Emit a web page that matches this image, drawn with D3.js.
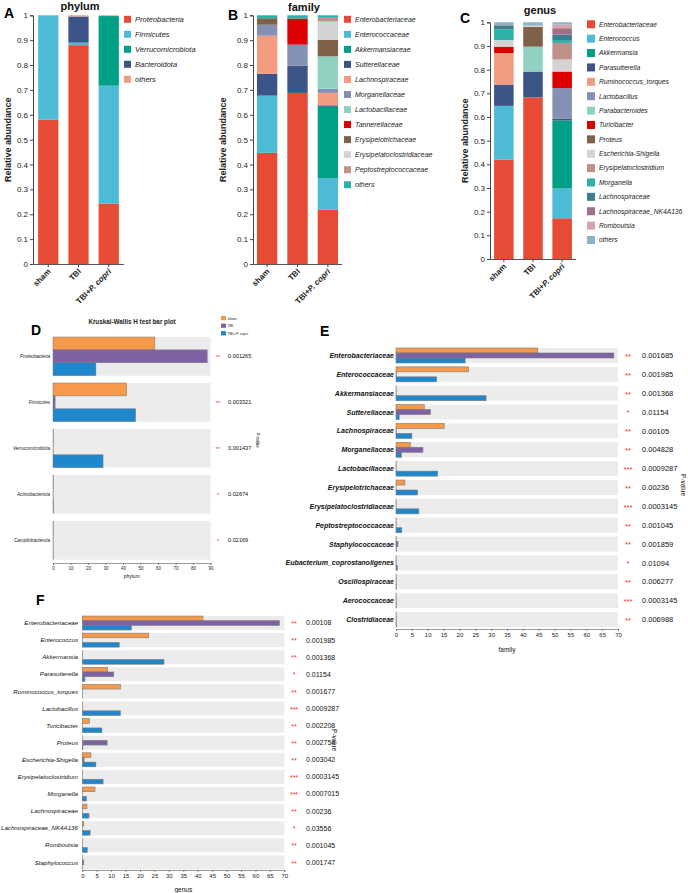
<!DOCTYPE html>
<html><head><meta charset="utf-8">
<script src="https://cdn.jsdelivr.net/npm/d3@7"></script>
<style>body{margin:0;background:#fff} svg{display:block;font-family:"Liberation Sans",Arial,sans-serif}</style>
</head><body><svg id="c" width="688" height="893"></svg>
<script>
const groups = ["sham","TBI","TBI+P. copri"];
const groupColors = ["#F7994A","#7E62A3","#1F87CC"];

// Panel A — phylum
const phylumTaxa = ["Proteobacteria","Firmicutes","Verrucomicrobiota","Bacteroidota","others"];
const phylumColors = ["#E64B35","#4DBBD5","#00A087","#3C5488","#F39B7F"];
const phylumSham = [0.58,0.42,0,0,0];
const phylumTBI = [0.88,0.01,0,0.105,0.005];
const phylumCopri = [0.243,0.474,0.28,0,0.003];

// Panel B — family
const familyTaxa = ["Enterobacteriaceae","Enterococcaceae","Akkermansiaceae","Sutterellaceae","Lachnospiraceae","Morganellaceae","Lactobacillaceae","Tannerellaceae","Erysipelotrichaceae","Erysipelatoclostridiaceae","Peptostreptococcaceae","others"];
const familyColors = ["#E64B35","#4DBBD5","#00A087","#3C5488","#F39B7F","#8491B4","#91D1C2","#DC0000","#7E6148","#D3D3D3","#C0908A","#2BB1A8"];
const familySham = [0.447,0.23,0,0.088,0.153,0.044,0,0,0.026,0,0,0.012];
const familyTBI = [0.688,0,0,0.109,0,0.085,0,0.105,0,0,0,0.013];
const familyCopri = [0.218,0.127,0.287,0.006,0.05,0.017,0.13,0,0.067,0.073,0.015,0.010];

// Panel C — genus
const genusTaxa = ["Enterobacteriaceae","Enterococcus","Akkermansia","Parasutterella","Ruminococcus_torques","Lactobacillus","Parabacteroides","Turicibacter","Proteus","Escherichia-Shigella","Erysipelatoclostridium","Morganella","Lachnospiraceae","Lachnospiraceae_NK4A136","Romboutsia","others"];
const genusColors = ["#E64B35","#4DBBD5","#00A087","#3C5488","#F39B7F","#8491B4","#91D1C2","#DC0000","#7E6148","#D3D3D3","#C0908A","#2BB1A8","#3A7F8E","#9E7189","#D8A3AB","#8DB3C7"];
const genusSham = [0.42,0.227,0,0.09,0.133,0,0,0.027,0,0.028,0,0.045,0.015,0.003,0,0.012];
const genusTBI = [0.683,0,0,0.109,0,0,0.105,0,0.083,0.006,0,0,0,0,0,0.014];
const genusCopri = [0.172,0.126,0.287,0.007,0,0.13,0,0.07,0,0.051,0.07,0.012,0.023,0.027,0.015,0.01];
const abundTicks = [0,0.1,0.2,0.3,0.4,0.5,0.6,0.7,0.8,0.9,1];

// Panel D — Kruskal-Wallis, phylum
const dTaxa = ["Proteobacteria","Firmicutes","Verrucomicrobiota","Actinobacteriota","Campilobacterota"];
const dSham = [58.2,42.1,0.2,0.3,0.2];
const dTBI = [88.1,1.2,0.1,0.1,0.1];
const dCopri = [24.5,47.2,28.6,0.3,0.1];
const dStars = ["**","**","**","*","*"];
const dP = ["0.001265","0.003321","0.001437","0.02674","0.02169"];
const dTicks = [0,10,20,30,40,50,60,70,80,90];

// Panel E — family
const eTaxa = ["Enterobacteriaceae","Enterococcaceae","Akkermansiaceae","Sutterellaceae","Lachnospiraceae","Morganellaceae","Lactobacillaceae","Erysipelotrichaceae","Erysipelatoclostridiaceae","Peptostreptococcaceae","Staphylococcaceae","Eubacterium_coprostanoligenes","Oscillospiraceae","Aerococcaceae","Clostridiaceae"];
const eSham = [44.7,22.9,0.05,8.9,15.2,4.5,0.05,2.8,0.05,0.05,0.05,0.05,0.05,0.05,0.05];
const eTBI = [68.7,0.1,0.05,10.9,0.1,8.5,0.05,0.05,0.05,0.05,0.6,0.05,0.05,0.05,0.05];
const eCopri = [21.8,12.8,28.4,1.0,5.0,1.7,13.1,6.8,7.2,1.8,0.1,0.4,0.1,0.1,0.1];
const eStars = ["**","**","**","*","**","**","***","**","***","**","**","*","**","***","**"];
const eP = ["0.001685","0.001985","0.001368","0.01154","0.00105","0.004828","0.0009287","0.00236","0.0003145","0.001045","0.001859","0.01094","0.006277","0.0003145","0.006988"];
const efTicks = [0,5,10,15,20,25,30,35,40,45,50,55,60,65,70];

// Panel F — genus
const fTaxa = ["Enterobacteriaceae","Enterococcus","Akkermansia","Parasutterella","Ruminococcus_torques","Lactobacillus","Turicibacter","Proteus","Escherichia-Shigella","Erysipelatoclostridium","Morganella","Lachnospiraceae","Lachnospiraceae_NK4A136","Romboutsia","Staphylococcus"];
const fSham = [41.8,23.0,0.05,8.8,13.3,0.05,2.5,0.05,3.0,0.05,4.4,1.6,0.5,0.05,0.05];
const fTBI = [68.3,0.05,0.05,10.9,0.05,0.05,0.05,8.6,0.6,0.05,0.05,0.05,0.05,0.05,0.5];
const fCopri = [17.0,12.8,28.3,0.9,0.05,13.2,6.8,0.2,4.7,7.2,1.4,2.3,2.7,1.7,0.05];
const fStars = ["**","**","**","*","**","***","**","**","**","***","***","**","*","**","**"];
const fP = ["0.00108","0.001985","0.001368","0.01154","0.001677","0.0009287","0.002208","0.002754","0.003042","0.0003145","0.0007015","0.00236","0.03556","0.001045","0.001747"];

const svg = d3.select("#c");

function groupLabel(sel, name){
  if(name.indexOf("P. copri")>=0){
    sel.append("tspan").text("TBI+");
    sel.append("tspan").attr("font-style","italic").text("P. copri");
  } else sel.text(name);
}

function stackPanel(c){
  const g = svg.append("g");
  const x = d3.scaleBand().domain(groups).range([c.axisX, c.xEnd]).paddingInner(0.33).paddingOuter(c.po);
  const y = d3.scaleLinear().domain([0,1]).range([c.yBottom, c.yTop]);
  const series = [c.sham, c.tbi, c.copri];
  groups.forEach((gr,gi)=>{
    let cum = 0;
    c.taxa.forEach((t,ti)=>{
      const v = series[gi][ti];
      if(v>0){
        g.append("rect").attr("x",x(gr)).attr("width",x.bandwidth())
          .attr("y",y(cum+v)).attr("height",y(cum)-y(cum+v)).attr("fill",c.colors[ti]);
      }
      cum += v;
    });
  });
  const ax = g.append("g").attr("transform",`translate(${c.axisX},0)`)
    .call(d3.axisLeft(y).tickValues(abundTicks).tickFormat(d3.format("~g")).tickSize(3).tickPadding(2));
  ax.selectAll("text").attr("font-size",8).attr("fill","#222").attr("font-family","Liberation Sans, Arial");
  ax.selectAll("line,path").attr("stroke","#444");
  const bx = g.append("g").attr("transform",`translate(0,${c.yBottom})`)
    .call(d3.axisBottom(x).tickSize(3).tickFormat(""));
  bx.select("path").attr("d",`M${c.axisX},0.5H${c.xEnd}`).attr("stroke","#555").attr("stroke-width",1.2);
  bx.selectAll("line").attr("stroke","#444");
  groups.forEach(gr=>{
    const cx = x(gr)+x.bandwidth()/2;
    const t = g.append("text").attr("transform",`translate(${cx+3},${c.yBottom+8}) rotate(-45)`)
      .attr("text-anchor","end").attr("font-size",8).attr("font-weight",600).attr("fill","#222");
    groupLabel(t, gr);
  });
  g.append("text").attr("transform",`translate(${c.ylabX},${(c.yTop+c.yBottom)/2}) rotate(-90)`)
    .attr("text-anchor","middle").attr("font-size",9).attr("font-weight","bold").attr("fill","#222").text("Relative abundance");
  g.append("text").attr("x",c.titleX).attr("y",c.titleY).attr("text-anchor","middle")
    .attr("font-size",11).attr("font-weight","bold").attr("fill","#111").text(c.title);
  g.append("text").attr("x",c.letterX).attr("y",c.letterY).attr("font-size",14).attr("font-weight","bold").text(c.letter);
  c.taxa.forEach((t,i)=>{
    const yy = c.legY0 + i*c.legStep;
    g.append("rect").attr("x",c.legX).attr("y",yy-c.sw/2).attr("width",c.sw).attr("height",c.sw).attr("fill",c.colors[i]);
    g.append("text").attr("x",c.legX+c.sw+4).attr("y",yy+c.legFont*0.35).attr("font-size",c.legFont)
      .attr("font-style","italic").attr("fill","#222").text(t);
  });
}

stackPanel({taxa:phylumTaxa, colors:phylumColors, sham:phylumSham, tbi:phylumTBI, copri:phylumCopri,
  axisX:33, xEnd:124, po:0.17, yTop:15.3, yBottom:264, ylabX:10.5, title:"phylum", titleX:80, titleY:10,
  letter:"A", letterX:4, letterY:18, legX:124, legY0:19.3, legStep:15, sw:7, legFont:7.5});
stackPanel({taxa:familyTaxa, colors:familyColors, sham:familySham, tbi:familyTBI, copri:familyCopri,
  axisX:253, xEnd:342, po:0.13, yTop:15.3, yBottom:264, ylabX:225.5, title:"family", titleX:304, titleY:11,
  letter:"B", letterX:228, letterY:20, legX:344, legY0:19.3, legStep:15.04, sw:7, legFont:7});
stackPanel({taxa:genusTaxa, colors:genusColors, sham:genusSham, tbi:genusTBI, copri:genusCopri,
  axisX:490, xEnd:576, po:0.14, yTop:22.3, yBottom:259, ylabX:468, title:"genus", titleX:540, titleY:14,
  letter:"C", letterX:460, letterY:23, legX:587, legY0:24.3, legStep:14.38, sw:8, legFont:6.7});

function kwPanel(c){
  const g = svg.append("g");
  const x = d3.scaleLinear().domain([0,c.max]).range([c.x0, c.x1]);
  const y = d3.scaleBand().domain(c.taxa).range([c.yTop, c.yEnd]).paddingInner(c.pi).paddingOuter(0);
  const sub = d3.scaleBand().domain(groups).range([0, y.bandwidth()]);
  const vals = [c.sham, c.tbi, c.copri];
  c.taxa.forEach((t,i)=>{
    g.append("rect").attr("x",c.x0).attr("y",y(t)).attr("width",c.x1-c.x0).attr("height",y.bandwidth()).attr("fill","#ECECEC");
    groups.forEach((gr,gi)=>{
      g.append("rect").attr("x",x(0)).attr("y",y(t)+sub(gr)).attr("width",x(vals[gi][i])-x(0))
        .attr("height",sub.bandwidth()).attr("fill",groupColors[gi]).attr("stroke","#7a7a7a").attr("stroke-width",c.sw);
    });
    const cy = y(t)+y.bandwidth()/2;
    g.append("text").attr("x",c.labX).attr("y",cy+c.labFont*0.35).attr("text-anchor","end")
      .attr("font-size",c.labFont).attr("font-style","italic").attr("font-weight",c.labWeight||"normal").attr("fill","#111").text(t);
    g.append("text").attr("x",c.starX).attr("y",cy+c.pFont*0.45).attr("text-anchor","middle")
      .attr("font-size",c.pFont).attr("fill","#F03030").text(c.stars[i]);
    g.append("text").attr("x",c.pX).attr("y",cy+c.pFont*0.35).attr("font-size",c.pFont).attr("fill","#111").text(c.pvals[i]);
  });
  const ax = g.append("g").attr("transform",`translate(0,${c.axisY})`)
    .call(d3.axisBottom(x).tickValues(c.ticks).tickSize(2).tickPadding(2).tickFormat(d3.format("d")));
  ax.selectAll("text").attr("font-size",c.tickFont).attr("fill","#222").attr("font-family","Liberation Sans, Arial");
  ax.selectAll("line,path").attr("stroke","#555").attr("stroke-width",0.6);
  g.append("text").attr("x",(c.x0+c.x1)/2).attr("y",c.xlabY).attr("text-anchor","middle")
    .attr("font-size",c.xlabFont).attr("fill","#111").text(c.xlab);
  g.append("text").attr("transform",`translate(${c.pvX},${c.pvY}) rotate(90)`).attr("text-anchor","middle")
    .attr("font-size",c.pvFont).attr("fill","#111").text("P-value");
  g.append("text").attr("x",c.letterX).attr("y",c.letterY).attr("font-size",14).attr("font-weight","bold").text(c.letter);
}

kwPanel({taxa:dTaxa, sham:dSham, tbi:dTBI, copri:dCopri, stars:dStars, pvals:dP, max:90, ticks:dTicks,
  x0:53, x1:210.5, yTop:337, yEnd:559.7, pi:0.16, sw:0.5, labX:50, labFont:4.6, starX:218, pX:228, pFont:5.6,
  axisY:563, tickFont:4.5, xlab:"phylum", xlabY:578, xlabFont:5, pvX:256, pvY:440, pvFont:4.5,
  letter:"D", letterX:31, letterY:335});
svg.append("text").attr("x",132).attr("y",324).attr("text-anchor","middle").attr("font-size",6.3)
  .attr("font-weight","bold").attr("fill","#222").text("Kruskal-Wallis H test bar plot");
groups.forEach((gr,i)=>{
  svg.append("rect").attr("x",221).attr("y",316+i*7.6).attr("width",5).attr("height",4.2).attr("fill",groupColors[i]);
  const t = svg.append("text").attr("x",227.5).attr("y",319.5+i*7.6).attr("font-size",3.8).attr("fill","#222");
  groupLabel(t, gr);
});

kwPanel({taxa:eTaxa, sham:eSham, tbi:eTBI, copri:eCopri, stars:eStars, pvals:eP, max:70, ticks:efTicks,
  x0:396, x1:618, yTop:348, yEnd:627, pi:0.205, sw:0.6, labX:394, labFont:7, labWeight:"bold", starX:628, pX:642, pFont:7.5,
  axisY:629, tickFont:6, xlab:"family", xlabY:652, xlabFont:6.5, pvX:681, pvY:485, pvFont:6.5,
  letter:"E", letterX:320, letterY:336});

kwPanel({taxa:fTaxa, sham:fSham, tbi:fTBI, copri:fCopri, stars:fStars, pvals:fP, max:70, ticks:efTicks,
  x0:82.3, x1:284.3, yTop:616, yEnd:869.4, pi:0.18, sw:0.6, labX:78, labFont:6.2, starX:294, pX:306, pFont:7,
  axisY:870, tickFont:6, xlab:"genus", xlabY:892, xlabFont:6.5, pvX:332, pvY:740, pvFont:6.5,
  letter:"F", letterX:36, letterY:605});
</script></body></html>
